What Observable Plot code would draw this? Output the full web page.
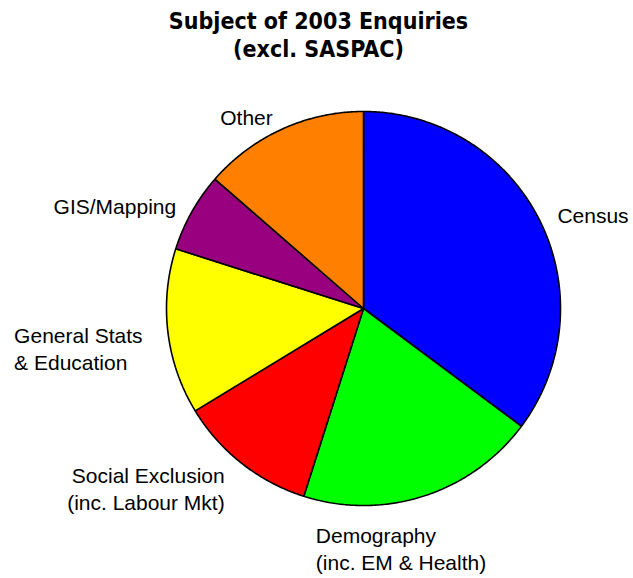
<!DOCTYPE html>
<html>
<head>
<meta charset="utf-8">
<script src="https://cdn.jsdelivr.net/npm/d3@7"></script>
<script src="https://cdn.jsdelivr.net/npm/@observablehq/plot@0.6"></script>
<style>
  html, body { margin: 0; padding: 0; background: #fff; }
  #title {
    box-sizing: border-box;
    width: 633px; height: 70px;
    padding-top: 7px; padding-left: 4px;
    text-align: center;
    font-family: "DejaVu Sans Condensed", "DejaVu Sans", sans-serif;
    font-weight: bold; font-size: 23px; line-height: 28px;
    color: #000;
  }
  #chart svg { display: block; }
</style>
</head>
<body>
<div id="title">Subject of 2003 Enquiries<br>(excl. SASPAC)</div>
<div id="chart"></div>
<script>
// ---- data ----
const categories = [
  "Census",
  "Demography\n(inc. EM & Health)",
  "Social Exclusion\n(inc. Labour Mkt)",
  "General Stats\n& Education",
  "GIS/Mapping",
  "Other"
];
const shares = [35.2, 19.7, 11.4, 13.6, 6.5, 13.6];   // percent of enquiries
const colors = ["#0000FF", "#00FF00", "#FF0000", "#FFFF00", "#990080", "#FF8000"];

// ---- label layout (not data) ----
const labelAnchor = ["start", "start", "end", "start", "end", "end"];
const labelDx = [9, -111, -11, -144, -7, -5];
const labelDy = [-12, 18, -7, -9, -12, -14];

// ---- geometry from d3.pie (angles clockwise from 12 o'clock) ----
const arcs = d3.pie().sort(null).value(d => d)(shares);
const slicePts = arcs.flatMap((a, i) => {
  const n = Math.max(2, Math.ceil((a.endAngle - a.startAngle) / (Math.PI / 360)));
  const pts = [{name: categories[i], x: 0, y: 0}];
  for (let k = 0; k <= n; k++) {
    const t = a.startAngle + (a.endAngle - a.startAngle) * k / n;
    pts.push({name: categories[i], x: Math.sin(t), y: Math.cos(t)});
  }
  pts.push({name: categories[i], x: 0, y: 0});
  return pts;
});
const labels = arcs.map((a, i) => {
  const m = (a.startAngle + a.endAngle) / 2;
  return {name: categories[i], x: 1.05 * Math.sin(m), y: 1.05 * Math.cos(m), i};
});

const labelMarks = labels.map(l => Plot.text([l], {
  x: "x", y: "y", text: "name",
  textAnchor: labelAnchor[l.i], lineAnchor: "top",
  dx: labelDx[l.i], dy: labelDy[l.i],
  fontSize: 21, lineHeight: 1.286,
  fontFamily: "'Liberation Sans', Arial, sans-serif",
  fill: "black"
}));

const chart = Plot.plot({
  width: 633, height: 508,
  marginLeft: 166, marginRight: 73, marginTop: 41, marginBottom: 73,
  x: {domain: [-1, 1], axis: null},
  y: {domain: [-1, 1], axis: null},
  color: {domain: categories, range: colors},
  style: {background: "white", overflow: "visible"},
  marks: [
    Plot.line(slicePts, {
      x: "x", y: "y", z: "name", fill: "name",
      stroke: "black", strokeWidth: 1.6, curve: "linear", strokeLinejoin: "miter"
    }),
    ...labelMarks
  ]
});
document.getElementById("chart").appendChild(chart);
</script>
</body>
</html>
